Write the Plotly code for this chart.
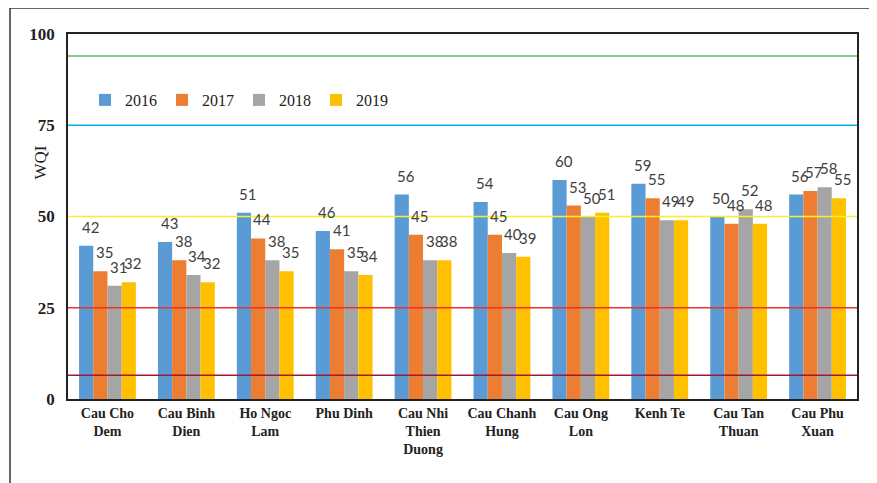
import plotly.graph_objects as go

categories = ["Cau Cho<br>Dem", "Cau Binh<br>Dien", "Ho Ngoc<br>Lam", "Phu Dinh",
              "Cau Nhi<br>Thien<br>Duong", "Cau Chanh<br>Hung", "Cau Ong<br>Lon",
              "Kenh Te", "Cau Tan<br>Thuan", "Cau Phu<br>Xuan"]
years = ["2016", "2017", "2018", "2019"]
wqi_2016 = [42, 43, 51, 46, 56, 54, 60, 59, 50, 56]
wqi_2017 = [35, 38, 44, 41, 45, 45, 53, 55, 48, 57]
wqi_2018 = [31, 34, 38, 35, 38, 40, 50, 49, 52, 58]
wqi_2019 = [32, 32, 35, 34, 38, 39, 51, 49, 48, 55]
series = [wqi_2016, wqi_2017, wqi_2018, wqi_2019]
colors = ["#5B9BD5", "#ED7D31", "#A5A5A5", "#FFC000"]

ref_levels = [94, 75, 50, 25, 6.5]
ref_colors = ["#5DBE6B", "#00B0F0", "#F5F030", "#E8342E", "#9B1B30"]

# page has an 8px body margin; work in page pixels and convert
OFF = 8
W, H = 869, 475
ML, MR, MT, MB = 60, 20, 26, 84
pw, ph = W - ML - MR, H - MT - MB
BARGAP = 0.28
bar_px = pw / len(categories) * (1 - BARGAP) / len(series)

def px_x(px):
    return (px - OFF - ML) / pw

def px_y(py):
    return (H - MB - (py - OFF)) / ph

fig = go.Figure()
annotations = []
for i, (name, vals, col) in enumerate(zip(years, series, colors)):
    fig.add_trace(go.Bar(
        x=categories, y=vals, name=name, marker_color=col, marker_line_width=0,
    ))
    off = (i - (len(series) - 1) / 2) * bar_px + 4
    for c, v in zip(categories, vals):
        annotations.append(dict(x=c, y=v, xref="x", yref="y", text=str(v), showarrow=False,
                                xanchor="center", yanchor="bottom", xshift=off, yshift=8,
                                font=dict(family="Lato", size=15, color="#404040")))

shapes = []
for lv, c in zip(ref_levels, ref_colors):
    shapes.append(dict(type="line", xref="paper", yref="y", x0=0, x1=1, y0=lv, y1=lv,
                       line=dict(color=c, width=1.5), layer="above"))
# outer border lines of the picture
shapes.append(dict(type="line", xref="paper", yref="paper", x0=px_x(10), x1=px_x(10),
                   y0=px_y(8), y1=px_y(H + 20), line=dict(color="#333333", width=1.5)))
shapes.append(dict(type="line", xref="paper", yref="paper", x0=px_x(10), x1=px_x(W + 20),
                   y0=px_y(8), y1=px_y(8), line=dict(color="#333333", width=1.5)))

annotations.append(dict(text="WQI", xref="paper", yref="paper", x=px_x(28), y=px_y(163),
                        textangle=-90, showarrow=False,
                        font=dict(family="Liberation Serif", size=17, color="#222222")))

fig.update_layout(
    width=W, height=H,
    margin=dict(l=ML, r=MR, t=MT, b=MB, autoexpand=False),
    plot_bgcolor="white", paper_bgcolor="white",
    barmode="group", bargap=BARGAP, bargroupgap=0,
    shapes=shapes,
    showlegend=True,
    legend=dict(orientation="h", x=px_x(85), y=px_y(100), xanchor="left", yanchor="middle",
                font=dict(family="Liberation Serif", size=16, color="#222222"),
                bgcolor="rgba(0,0,0,0)", itemwidth=30, traceorder="normal",
                tracegroupgap=0),
    annotations=annotations,
)
fig.update_yaxes(range=[0, 100], dtick=25, showgrid=False, zeroline=False, automargin=False,
                 showline=True, mirror=True, linecolor="#222222", linewidth=1.5,
                 ticks="", tickfont=dict(family="Liberation Serif", size=17, color="#222222",
                                         weight="bold"),
                 ticklabelstandoff=8)
fig.update_xaxes(showgrid=False, showline=True, mirror=True, linecolor="#222222", linewidth=1.5,
                 ticks="", tickangle=0, automargin=False,
                 tickfont=dict(family="Liberation Serif", size=14, color="#222222", weight="bold"))

fig.write_html("out.html")
